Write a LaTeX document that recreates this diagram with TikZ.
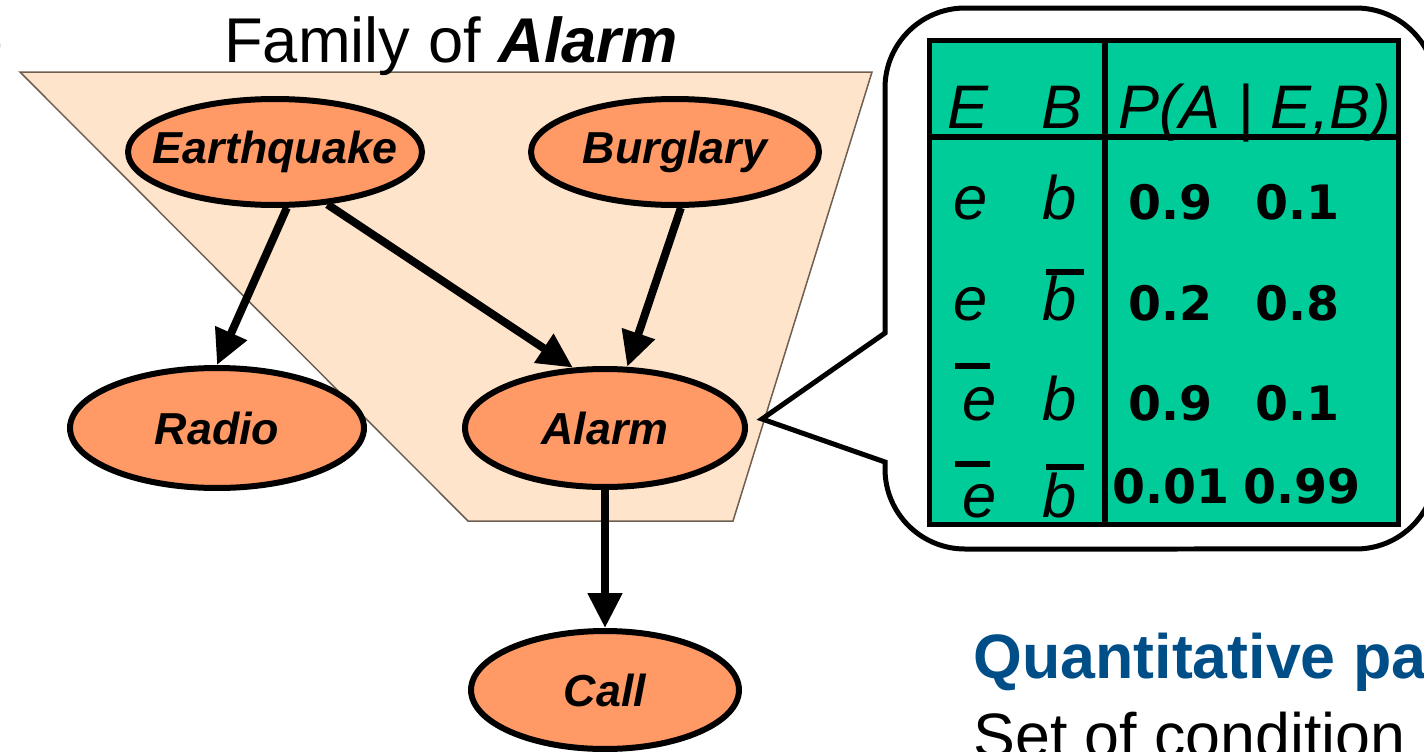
\documentclass[tikz,border=0pt]{standalone}
\usepackage{fontspec}
\setmainfont{Liberation Sans}
\newfontfamily\dvs{DejaVu Sans}
\usetikzlibrary{shapes.geometric,arrows.meta}
\definecolor{famfill}{RGB}{255,228,204}
\definecolor{famline}{RGB}{110,95,80}
\definecolor{nodefill}{RGB}{255,153,102}
\definecolor{cptgreen}{RGB}{0,204,153}
\definecolor{qblue}{RGB}{0,78,135}
\begin{document}
\begin{tikzpicture}[x=0.02cm,y=-0.02cm,
  bn/.style={ellipse,draw,line width=0.12cm,fill=nodefill,inner sep=0pt,
    font=\fontsize{25.5}{30}\selectfont\bfseries\itshape},
  edge/.style={line width=0.16cm,-{Triangle[length=0.7cm,width=0.66cm]}},
  tl/.style={inner sep=0pt,anchor=base,font=\fontsize{35}{40}\selectfont\itshape},
  tn/.style={inner sep=0pt,anchor=base west,font=\dvs\bfseries\fontsize{27}{32}\selectfont},
  bar/.style={line width=0.12cm},
  rule/.style={line width=0.12cm},
  plain/.style={inner sep=0pt,anchor=base west,font=\fontsize{36}{40}\selectfont}]
\useasboundingbox (0,0) rectangle (1424,751);
\fill[white] (0,0) rectangle (1424,751);

% family of Alarm
\filldraw[fill=famfill,draw=famline,line width=0.03cm]
  (20,72) -- (872,72) -- (733,521) -- (468,521) -- cycle;
\node[plain,anchor=base east] (frag) at (5,62) {)};
\node[plain] (title) at (224,62) {Family of \textbf{\textit{Alarm}}};

% network nodes
\node[bn,minimum width=5.88cm,minimum height=2.12cm] (eq) at (275,152) {\makebox[0pt]{Earthquake}};
\node[bn,minimum width=5.76cm,minimum height=2.12cm] (bu) at (675,152) {\makebox[0pt]{Burglary}};
\node[bn,minimum width=5.88cm,minimum height=2.4cm] (ra) at (217,428) {\makebox[0pt]{Radio}};
\node[bn,minimum width=5.6cm,minimum height=2.36cm] (al) at (605,428) {\makebox[0pt]{Alarm}};
\node[bn,minimum width=5.36cm,minimum height=2.36cm] (ca) at (605,690) {\makebox[0pt]{Call}};

\draw[edge] (eq.-78) -- (ra.north);
\draw[edge] (eq.-45) -- (al.118);
\draw[edge] (bu.-84) -- (al.70);
\draw[edge] (al.south) -- (ca.north);

% callout
\draw[line width=0.1cm,line join=miter]
  (885,333) -- (885,88) arc[start angle=180,end angle=90,radius=1.6cm]
  -- (1356,8) arc[start angle=90,end angle=0,radius=1.6cm]
  -- (1436,469) arc[start angle=0,end angle=-90,radius=1.6cm]
  -- (965,549) arc[start angle=270,end angle=180,radius=1.6cm]
  -- (885,462) -- (762,419) -- cycle;

% CPT table
\node[draw,line width=0.1cm,fill=cptgreen,inner sep=0pt,anchor=north west,
  minimum width=9.38cm,minimum height=9.68cm] (cpt) at (927,38) {};
\draw[rule] (927,137) -- (1396,137);
\draw[rule] (1105,38) -- (1105,522);

\node[tl] (hE) at (968,128) {E};
\node[tl] (hB) at (1062,128) {B};
\node[tl,anchor=base west] (hP) at (1118,128) {P(A | E,B)};

\node[tl] (e1) at (971,219) {e};
\node[tl] (b1) at (1060,219) {b};
\node[tn] (p1a) at (1128,219) {0.9};
\node[tn] (p1b) at (1255,219) {0.1};

\node[tl] (e2) at (971,320) {e};
\node[tl] (b2) at (1060,320) {b};
\draw[bar] (1046,272) -- (1084,272);
\node[tn] (p2a) at (1128,320) {0.2};
\node[tn] (p2b) at (1255,320) {0.8};

\node[tl] (e3) at (980,420) {e};
\draw[bar] (955,366) -- (990,366);
\node[tl] (b3) at (1060,420) {b};
\node[tn] (p3a) at (1128,420) {0.9};
\node[tn] (p3b) at (1255,420) {0.1};

\node[tl] (e4) at (980,517) {e};
\draw[bar] (955,464) -- (990,464);
\node[tl] (b4) at (1060,517) {b};
\draw[bar] (1046,467) -- (1084,467);
\node[tn] (p4a) at (1112,503) {0.01};
\node[tn] (p4b) at (1243,503) {0.99};

% bottom text
\node[plain,font=\fontsize{35.7}{40}\selectfont\bfseries,text=qblue] (q) at (973,678) {Quantitative pa};
\node[plain,font=\fontsize{35.7}{40}\selectfont] (s) at (973,757) {Set of condition};
\end{tikzpicture}
\end{document}
